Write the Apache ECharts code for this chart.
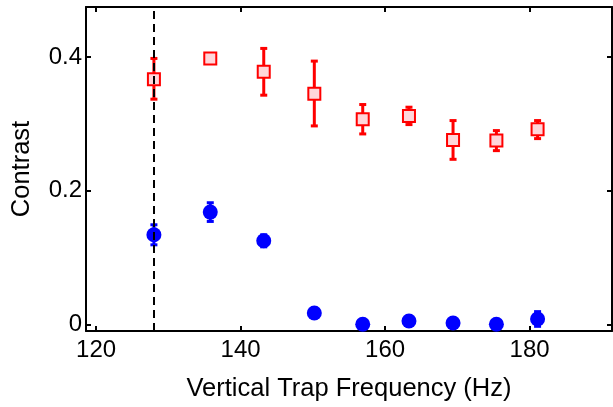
<!DOCTYPE html>
<html style="height: 100%">
<head>
	<meta charset="utf-8">
	<script type="text/javascript" src="https://cdn.jsdelivr.net/npm/echarts@6.0.0/dist/echarts.min.js"></script>
	<style>
		#container{
			width: 613px;
			height: 407px;
		}
	</style>
</head>
<body style="height: 100%; margin: 0; background: #fff">
	<div id="container"></div>
	<script type="text/javascript">
		// trap frequency (Hz) for both data sets
		var freq = [128, 135.8, 143.2, 150.2, 156.9, 163.3, 169.4, 175.4, 181.1];
		// red squares
		var redVal = [0.367, 0.398, 0.378, 0.345, 0.307, 0.312, 0.276, 0.275, 0.292];
		var redLo  = [0.337, 0.394, 0.343, 0.297, 0.285, 0.299, 0.247, 0.260, 0.278];
		var redHi  = [0.398, 0.402, 0.413, 0.394, 0.329, 0.325, 0.305, 0.290, 0.305];
		// blue circles
		var blueVal = [0.134, 0.168, 0.125, 0.017, 0.000, 0.005, 0.002, 0.000, 0.008];
		var blueLo  = [0.119, 0.154, 0.116, 0.010, -0.006, -0.001, -0.004, -0.006, -0.003];
		var blueHi  = [0.149, 0.182, 0.134, 0.024, 0.006, 0.011, 0.008, 0.006, 0.019];
		var xTicks = [120, 140, 160, 180];
		var yTicks = [0, 0.2, 0.4];
		var dashedAt = 128;

		var font = 'Liberation Sans';

		function pts(vals) {
			return freq.map(function (f, i) { return [f, vals[i]]; });
		}
		function bars(lo, hi) {
			return freq.map(function (f, i) { return [f, lo[i], hi[i]]; });
		}

		function errRender(color) {
			return function (params, api) {
				var top = api.coord([api.value(0), api.value(2)]);
				var bot = api.coord([api.value(0), api.value(1)]);
				var w = 3.5;
				var st = { stroke: color, lineWidth: 3 };
				return {
					type: 'group',
					children: [
						{ type: 'line', shape: { x1: top[0], y1: top[1], x2: bot[0], y2: bot[1] }, style: st },
						{ type: 'line', shape: { x1: top[0] - w, y1: top[1], x2: top[0] + w, y2: top[1] }, style: st },
						{ type: 'line', shape: { x1: bot[0] - w, y1: bot[1], x2: bot[0] + w, y2: bot[1] }, style: st }
					]
				};
			};
		}

		var axisLine = { show: true, onZero: false, lineStyle: { color: '#000', width: 2 } };
		var tickStyle = { color: '#000', width: 2 };

		var myChart = echarts.init(document.getElementById('container'));
		myChart.setOption({
			animation: false,
			grid: { left: 86, top: 7, right: 1, bottom: 74 },
			xAxis: [{
				type: 'value',
				min: 118.6,
				max: 191.4,
				position: 'bottom',
				axisLine: axisLine,
				axisTick: { inside: true, length: 5, customValues: xTicks, lineStyle: tickStyle },
				axisLabel: { customValues: xTicks, fontSize: 24, color: '#000', fontFamily: font, margin: 7 },
				splitLine: { show: false },
				name: 'Vertical Trap Frequency (Hz)',
				nameLocation: 'middle',
				nameGap: 45,
				nameTextStyle: { fontSize: 25.5, color: '#000', fontFamily: font }
			}, {
				type: 'value',
				min: 118.6,
				max: 191.4,
				position: 'top',
				axisLine: axisLine,
				axisTick: { inside: true, length: 5, customValues: xTicks, lineStyle: tickStyle },
				axisLabel: { show: false },
				splitLine: { show: false }
			}],
			yAxis: [{
				type: 'value',
				min: -0.01,
				max: 0.475,
				position: 'left',
				axisLine: axisLine,
				axisTick: { inside: true, length: 5, customValues: yTicks, lineStyle: tickStyle },
				axisLabel: { customValues: yTicks, fontSize: 24, color: '#000', fontFamily: font, margin: 4 },
				splitLine: { show: false },
				name: 'Contrast',
				nameLocation: 'middle',
				nameRotate: 90,
				nameGap: 51,
				nameTextStyle: { fontSize: 25.5, color: '#000', fontFamily: font }
			}, {
				type: 'value',
				min: -0.01,
				max: 0.475,
				position: 'right',
				axisLine: axisLine,
				axisTick: { inside: true, length: 5, customValues: yTicks, lineStyle: tickStyle },
				axisLabel: { show: false },
				splitLine: { show: false }
			}],
			series: [{
				type: 'custom',
				z: 1,
				renderItem: errRender('#ff0000'),
				data: bars(redLo, redHi),
				markLine: {
					silent: true,
					symbol: 'none',
					label: { show: false },
					lineStyle: { color: '#000', width: 2, type: [8, 5] },
					data: [{ xAxis: dashedAt }]
				}
			}, {
				type: 'custom',
				z: 1,
				renderItem: errRender('#0000ff'),
				data: bars(blueLo, blueHi)
			}, {
				type: 'scatter',
				z: 3,
				symbol: 'rect',
				symbolSize: 12,
				itemStyle: { color: '#ffd6da', borderColor: '#ff0000', borderWidth: 2, opacity: 1 },
				data: pts(redVal)
			}, {
				type: 'scatter',
				z: 3,
				symbol: 'circle',
				symbolSize: 15,
				itemStyle: { color: '#0000ff', opacity: 1 },
				data: pts(blueVal)
			}]
		});
	</script>
</body>
</html>
